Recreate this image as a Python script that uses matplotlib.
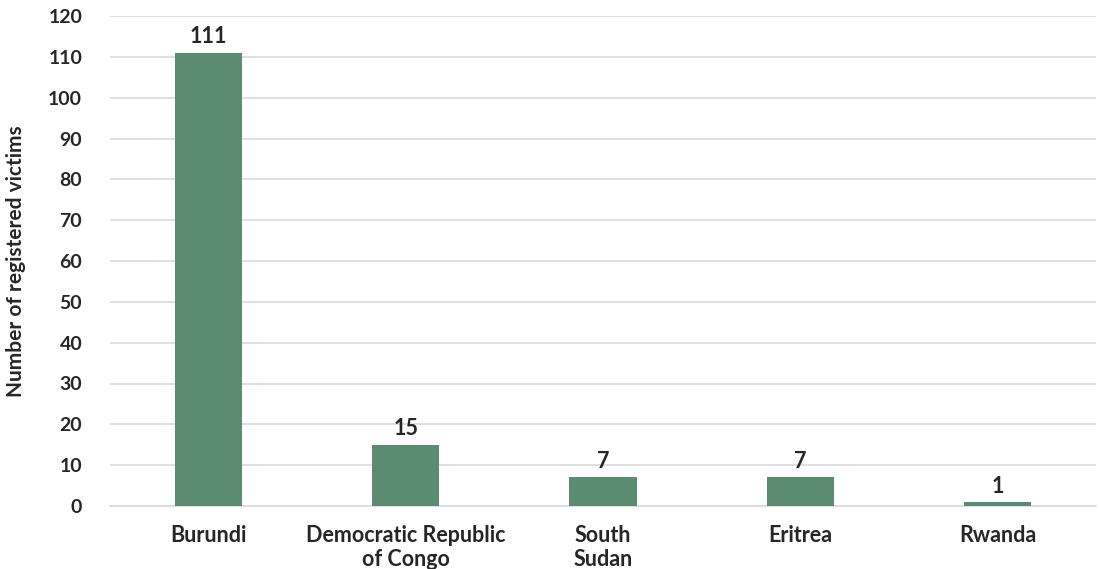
import matplotlib
matplotlib.use("Agg")
import matplotlib.pyplot as plt

categories = ["Burundi", "Democratic Republic\nof Congo", "South\nSudan", "Eritrea", "Rwanda"]
values = [111, 15, 7, 7, 1]
yticks = list(range(0, 121, 10))

plt.rcParams['font.family'] = ['Lato', 'DejaVu Sans']
plt.rcParams['font.weight'] = 'bold'
txt = '#262626'

fig = plt.figure(figsize=(10.99, 5.69), dpi=100)
ax = fig.add_axes([110/1099, 63/569, (1096-110)/1099, (506-16)/569])
x = list(range(len(categories)))
ax.bar(x, values, width=0.34, color='#5b8c72', zorder=3)
for xi, v in zip(x, values):
    ax.text(xi, v + 1.3, str(v), ha='center', va='bottom', fontsize=15.5, fontweight='bold', color=txt)
ax.set_xlim(-0.5, len(categories) - 0.5)
ax.set_ylim(0, 120)
ax.set_yticks(yticks)
ax.set_xticks(x)
ax.set_xticklabels(categories, fontsize=15.5, fontweight='bold', color=txt, linespacing=1.15)
ax.tick_params(axis='y', labelsize=14, colors=txt, length=0, pad=20)
ax.tick_params(axis='x', length=0, pad=14)
for lab in ax.get_yticklabels():
    lab.set_fontweight('bold')
ax.grid(axis='y', color='#d9d9d9', linewidth=1.2, zorder=0)
for s in ['top', 'right', 'left']:
    ax.spines[s].set_visible(False)
ax.spines['bottom'].set_color('#d9d9d9')
ax.spines['bottom'].set_linewidth(1.2)
ax.set_ylabel("Number of registered victims", fontsize=15, fontweight='bold', color=txt, labelpad=16)
fig.savefig("out.png", dpi=100)
